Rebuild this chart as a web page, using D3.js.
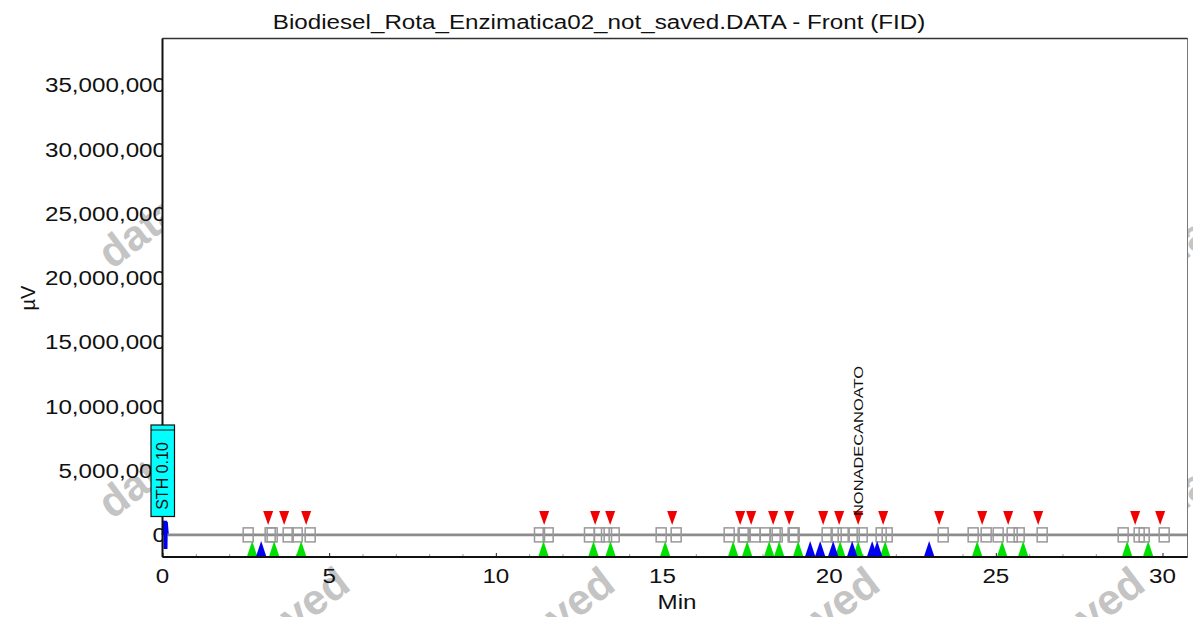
<!DOCTYPE html>
<html>
<head>
<meta charset="utf-8">
<script src="https://cdn.jsdelivr.net/npm/d3@7"></script>
<style>
  body { margin: 0; background: #fff; }
  svg { display: block; font-family: "Liberation Sans", Arial, sans-serif; }
</style>
</head>
<body>
<svg id="chart" width="1193" height="617"></svg>
<script>
var width = 1193, height = 617
var plotLeft = 162.5, plotRight = 1187.5, plotTop = 38.5, plotBottom = 557

// chart text
var title = "Biodiesel_Rota_Enzimatica02_not_saved.DATA - Front (FID)"
var yTicks = [0, 5000000, 10000000, 15000000, 20000000, 25000000, 30000000, 35000000]
var xTicks = [0, 5, 10, 15, 20, 25, 30]

// trace (min, µV) - flat at this scale except the solvent front
var traceTime = [0, 0.05, 0.06, 0.07, 0.08, 0.09, 0.10, 0.11, 0.12, 0.13, 0.16, 30.75]
var traceVal = [0, 1100000, -1100000, 1100000, -1100000, 1100000, -1100000, 1100000, -1100000, 1000000, 0, 0]

// peak event markers (min)
var peakStart = [2.69, 3.35, 4.16, 11.43, 12.93, 13.44, 15.08, 17.12, 17.54, 18.20, 18.50, 19.07, 20.33, 20.87, 21.68, 24.44, 25.19, 25.82, 28.94, 29.57]
var peakEnd = [3.17, 3.65, 4.31, 11.45, 12.98, 13.43, 15.29, 17.33, 17.66, 18.32, 18.80, 19.82, 20.30, 20.87, 21.62, 23.30, 24.59, 25.37, 26.27, 29.18, 29.93]
var valleyMarks = [2.96, 19.43, 19.73, 20.12, 20.69, 21.29, 21.44, 23.00]

// named peaks
var namedPeaks = ["NONADECANOATO"]
var namedTimes = [20.85]
var groupLabel = "STH 0.10"
var groupTime = 0

var x = d3.scaleLinear().domain([0, 30.75]).range([plotLeft, plotRight])
var y = d3.scaleLinear().domain([-1.72e6, 38.6e6]).range([plotBottom, plotTop])

var svg = d3.select("#chart")
var sx = 1.21 // glyphs in the picture are a bit wide

svg.append("rect").attr("width", width).attr("height", height).style("fill", "#fff")

//watermark behind everything
var wm = svg.append("g")
for (var i = 0; i < 5; i++) {
  for (var j = 0; j < 3; j++) {
    wm.append("text")
      .attr("transform", "translate(" + (112 + 265 * i) + "," + (270 + 250 * j) + ") rotate(-37)")
      .attr("font-size", "43px")
      .attr("font-weight", "bold")
      .style("fill", "#c4c4c4")
      .text("data not saved")
  }
}

//y tick labels (drawn before the plot so the frame clips the last digit)
svg.selectAll(".ylab").data(yTicks).enter().append("text")
  .attr("transform", function(d){ return "translate(" + 166 + "," + (y(d) + 7.5) + ") scale(" + sx + ",1)" })
  .attr("text-anchor", "end")
  .attr("font-size", "20px")
  .style("fill", "#111")
  .text(function(d){ return d3.format(",")(d) })

svg.append("text")
  .attr("transform", "translate(" + 35 + "," + 298 + ") rotate(-90)")
  .attr("text-anchor", "middle")
  .attr("font-size", "20px")
  .style("fill", "#111")
  .text("µV")

svg.selectAll(".xlab").data(xTicks).enter().append("text")
  .attr("transform", function(d){ return "translate(" + x(d) + "," + 583 + ") scale(" + sx + ",1)" })
  .attr("text-anchor", "middle")
  .attr("font-size", "20px")
  .style("fill", "#111")
  .text(function(d){ return d })

svg.append("text")
  .attr("transform", "translate(" + 677 + "," + 609 + ") scale(" + sx + ",1)")
  .attr("text-anchor", "middle")
  .attr("font-size", "20px")
  .style("fill", "#111")
  .text("Min")

svg.append("text")
  .attr("transform", "translate(" + 599 + "," + 28.5 + ") scale(" + sx + ",1)")
  .attr("text-anchor", "middle")
  .attr("font-size", "20px")
  .style("fill", "#111")
  .text(title)

//plot area
svg.append("rect")
  .attr("x", plotLeft).attr("y", plotTop)
  .attr("width", plotRight - plotLeft).attr("height", plotBottom - plotTop)
  .style("fill", "#fff")
  .style("stroke", "#777")
  .style("stroke-width", 1)

//x ticks, pointing inwards
var xAxis = d3.axisBottom(x).tickValues(d3.range(0, 31, 1)).tickSize(-3).tickFormat("")
var gx = svg.append("g").attr("transform", "translate(0," + plotBottom + ")").call(xAxis)
gx.select(".domain").remove()
gx.selectAll(".tick line")
  .style("stroke", function(d){ return d % 5 == 0 ? "#222" : "#999" })
  .attr("y2", function(d){ return d % 5 == 0 ? -4 : -3 })

//trace, under the baseline
var line = d3.line().x(function(d, i){ return x(traceTime[i]) }).y(function(d){ return y(d) })
svg.append("path").datum(traceVal).attr("d", line)
  .style("fill", "none").style("stroke", "#0000ee").style("stroke-width", 2)

//axes lines
svg.append("line").attr("x1", plotLeft).attr("x2", plotLeft).attr("y1", plotTop).attr("y2", plotBottom)
  .style("stroke", "#111").style("stroke-width", 2)
svg.append("line").attr("x1", plotLeft).attr("x2", plotRight).attr("y1", plotBottom).attr("y2", plotBottom)
  .style("stroke", "#111").style("stroke-width", 2)
svg.append("line").attr("x1", plotLeft).attr("x2", plotRight).attr("y1", plotTop).attr("y2", plotTop)
  .style("stroke", "#333").style("stroke-width", 1.5)

//baseline
svg.append("line").attr("x1", plotLeft + 5).attr("x2", plotRight).attr("y1", y(0)).attr("y2", y(0))
  .style("stroke", "#8c8c8c").style("stroke-width", 2.6)

//baseline boxes at peak start and end
var boxes = svg.append("g")
peakStart.forEach(function(t){
  boxes.append("rect").attr("x", x(t) - 9).attr("y", y(0) - 7).attr("width", 10).attr("height", 14)
    .style("fill", "none").style("stroke", "#999").style("stroke-width", 1.5)
})
peakEnd.forEach(function(t){
  boxes.append("rect").attr("x", x(t) - 1).attr("y", y(0) - 7).attr("width", 10).attr("height", 14)
    .style("fill", "none").style("stroke", "#999").style("stroke-width", 1.5)
})

//event markers
function tri(cx, base, h, up) {
  var tip = up ? base - h : base + h
  return "M" + (cx - 5) + "," + base + "L" + (cx + 5) + "," + base + "L" + cx + "," + tip + "Z"
}
svg.selectAll(".st").data(peakStart).enter().append("path")
  .attr("d", function(d){ return tri(x(d), 556, 15, true) })
  .style("fill", "#00e000")
svg.selectAll(".vl").data(valleyMarks).enter().append("path")
  .attr("d", function(d){ return tri(x(d), 556, 15, true) })
  .style("fill", "#0000f0")
svg.selectAll(".en").data(peakEnd).enter().append("path")
  .attr("d", function(d){ return tri(x(d), 511, 14, false) })
  .style("fill", "#f00000")

//named peak labels
svg.selectAll(".pk").data(namedPeaks).enter().append("text")
  .attr("transform", function(d, i){ return "translate(" + (x(namedTimes[i]) + 5) + "," + 516 + ") rotate(-90)" })
  .attr("font-size", "12.5px")
  .attr("textLength", 150)
  .attr("lengthAdjust", "spacingAndGlyphs")
  .style("fill", "#111")
  .text(function(d){ return d })

//group label box at the solvent front
var gl = svg.append("g").attr("transform", "translate(" + x(groupTime) + ",0)")
gl.append("rect").attr("x", -11.5).attr("y", 425).attr("width", 23.5).attr("height", 91.5)
  .style("fill", "#00ffff").style("stroke", "#111").style("stroke-width", 1.2)
gl.append("line").attr("x1", -11.5).attr("x2", 12).attr("y1", 430).attr("y2", 430)
  .style("stroke", "#111").style("stroke-width", 1)
gl.append("text")
  .attr("transform", "translate(" + 5.5 + "," + 476 + ") rotate(-90)")
  .attr("text-anchor", "middle")
  .attr("font-size", "16px")
  .style("fill", "#111")
  .text(groupLabel)
</script>
</body>
</html>
